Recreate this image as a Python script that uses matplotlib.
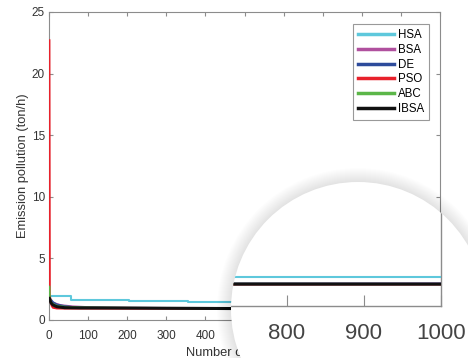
import matplotlib
matplotlib.use('Agg')
import matplotlib.pyplot as plt
from matplotlib.patches import Circle
from matplotlib.transforms import IdentityTransform

plt.rcParams['font.family'] = ['Liberation Sans', 'DejaVu Sans']

# данные кривых сходимости (итерация, значение)
names = ['HSA', 'BSA', 'DE', 'PSO', 'ABC', 'IBSA']
colors = ['#5ec8dc', '#b0509e', '#2d4b9b', '#e8212b', '#5bb648', '#111111']

it_hsa = [1, 57, 205, 355, 560, 1000]
val_hsa = [1.95, 1.62, 1.55, 1.49, 1.19, 1.19]

it_bsa = [1, 10, 30, 60, 100, 150, 300, 600, 1000]
val_bsa = [1.7, 1.4, 1.2, 1.1, 1.04, 1.0, 0.97, 0.94, 0.94]

it_de = [1, 10, 20, 40, 60, 100, 200, 600, 1000]
val_de = [1.8, 1.45, 1.25, 1.12, 1.05, 1.0, 0.97, 0.93, 0.93]

it_pso = [1, 2, 4, 7, 10, 20, 40, 100, 300, 600, 1000]
val_pso = [22.7, 2.1, 1.45, 1.15, 1.0, 0.94, 0.93, 0.93, 0.92, 0.90, 0.90]

it_abc = [1, 2, 5, 10, 20, 40, 80, 200, 600, 1000]
val_abc = [2.7, 1.75, 1.45, 1.3, 1.15, 1.07, 1.02, 0.98, 0.93, 0.92]

it_ibsa = [1, 5, 10, 20, 40, 80, 200, 600, 1000]
val_ibsa = [1.75, 1.4, 1.22, 1.08, 1.0, 0.98, 0.97, 0.91, 0.91]

series = [(it_hsa, val_hsa), (it_bsa, val_bsa), (it_de, val_de),
          (it_pso, val_pso), (it_abc, val_abc), (it_ibsa, val_ibsa)]

spine_col = '#8c8c8c'
txt_col = '#333333'


def draw_lines(ax):
    out = []
    for k, (xs, ys) in enumerate(series):
        ds = 'steps-post' if k == 0 else 'default'
        lw = 2.2 if names[k] == 'IBSA' else 1.5
        out.append(ax.plot(xs, ys, color=colors[k], lw=lw, zorder=3,
                           drawstyle=ds, label=names[k])[0])
    return out


fig = plt.figure(figsize=(4.68, 3.58), dpi=100)
ax = fig.add_axes([49 / 468, 38 / 358, 391 / 468, 308 / 358])
draw_lines(ax)
ax.set_xlim(0, 1000)
ax.set_ylim(0, 25)
xt = list(range(0, 1001, 100))
ax.set_xticks(xt)
# подписи 600..1000 всё равно закрыты лупой
ax.set_xticklabels([str(v) if v <= 500 else '' for v in xt])
ax.set_yticks(range(0, 26, 5))
ax.tick_params(direction='in', top=True, right=True, length=3, width=0.8,
               color=spine_col, labelcolor=txt_col, labelsize=8.5)
ax.tick_params(axis='x', pad=7)
ax.tick_params(axis='y', pad=3)
for s in ax.spines.values():
    s.set_color(spine_col)
    s.set_linewidth(0.8)
ax.set_xlabel('Number of iterations', fontsize=9.3, color=txt_col, labelpad=4)
ax.set_ylabel('Emission pollution (ton/h)', fontsize=9.3, color=txt_col, labelpad=2)

leg = ax.legend(loc='upper right', bbox_to_anchor=(429 / 468, 1 - 24 / 358),
                bbox_transform=fig.transFigure, borderaxespad=0, fontsize=8.3,
                handlelength=3.1, labelspacing=0.24, handletextpad=0.3,
                fancybox=False, framealpha=1, borderpad=0.45)
leg.get_frame().set_edgecolor('#999999')
leg.get_frame().set_linewidth(0.8)
for h in leg.get_lines():
    h.set_linewidth(2.5)

# лупа: круг с тенью поверх графика
cx, cy, r = 358, 358 - 309, 127
for k in range(14, 0, -1):
    fig.add_artist(Circle((cx, cy), r + k, transform=IdentityTransform(),
                          facecolor='k', edgecolor='none', alpha=0.006, zorder=5))
lens = Circle((cx, cy), r, transform=IdentityTransform(),
              facecolor='white', edgecolor='none', zorder=6)
fig.add_artist(lens)

# увеличенная часть (~1.95x)
scale_x = 0.77   # пикселей на итерацию
scale_y = 24.0   # пикселей на единицу
left_px, right_px, bot_px, top_px = 100, 441, 52, 188
axz = fig.add_axes([left_px / 468, bot_px / 358,
                    (right_px - left_px) / 468, (top_px - bot_px) / 358])
axz.set_zorder(7)
axz.patch.set_visible(False)
zl = draw_lines(axz)
axz.set_xlim(1000 - (right_px - left_px) / scale_x, 1000)
axz.set_ylim(0, (top_px - bot_px) / scale_y)
axz.set_xticks([800, 900, 1000])
axz.set_yticks([])
axz.tick_params(direction='in', length=8, width=0.8, color=spine_col,
                labelcolor='#444444', labelsize=16, pad=12)
axz.spines['top'].set_visible(False)
axz.spines['left'].set_visible(False)
for s in ['bottom', 'right']:
    axz.spines[s].set_color(spine_col)
    axz.spines[s].set_linewidth(1.0)
    axz.spines[s].set_clip_path(lens)
for ln in zl:
    ln.set_clip_path(lens)

fig.savefig('out.png', dpi=100)
